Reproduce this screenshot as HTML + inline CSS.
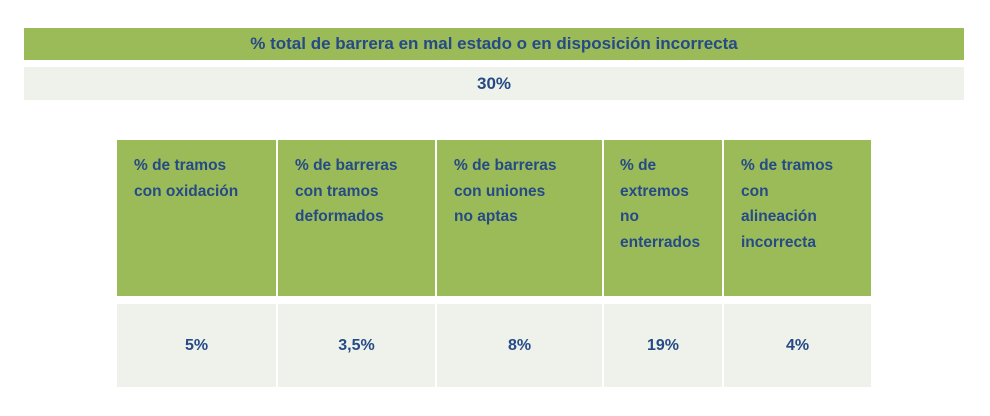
<!DOCTYPE html>
<html><head><meta charset="utf-8"><style>
body{margin:0;width:990px;height:416px;background:#fff;position:relative;overflow:hidden;font-family:"Liberation Sans",sans-serif;font-weight:bold;color:#254a86}
.a{position:absolute;box-sizing:border-box}
.g{background:#9bbb59}
.l{background:#eff2ea}
.h{font-size:15.5px;line-height:25.5px;padding:13px 0 0 17px}
.v{font-size:16px;display:flex;align-items:center;justify-content:center}
</style></head><body>
<div class="a g v" style="left:24px;top:28px;width:940px;height:32px;font-size:17px">% total de barrera en mal estado o en disposición incorrecta</div>
<div class="a l v" style="left:24px;top:67px;width:940px;height:33px;font-size:17px">30%</div>

<div class="a g h" style="left:117px;top:140px;width:159px;height:156px">% de tramos<br>con oxidación</div>
<div class="a g h" style="left:278px;top:140px;width:157px;height:156px">% de barreras<br>con tramos<br>deformados</div>
<div class="a g h" style="left:437px;top:140px;width:165px;height:156px">% de barreras<br>con uniones<br>no aptas</div>
<div class="a g h" style="left:604px;top:140px;width:118px;height:156px;padding-left:16px">% de<br>extremos<br>no<br>enterrados</div>
<div class="a g h" style="left:724px;top:140px;width:147px;height:156px">% de tramos<br>con<br>alineación<br>incorrecta</div>

<div class="a l v" style="left:117px;top:304px;width:159px;height:83px">5%</div>
<div class="a l v" style="left:278px;top:304px;width:157px;height:83px">3,5%</div>
<div class="a l v" style="left:437px;top:304px;width:165px;height:83px">8%</div>
<div class="a l v" style="left:604px;top:304px;width:118px;height:83px">19%</div>
<div class="a l v" style="left:724px;top:304px;width:147px;height:83px">4%</div>
</body></html>
